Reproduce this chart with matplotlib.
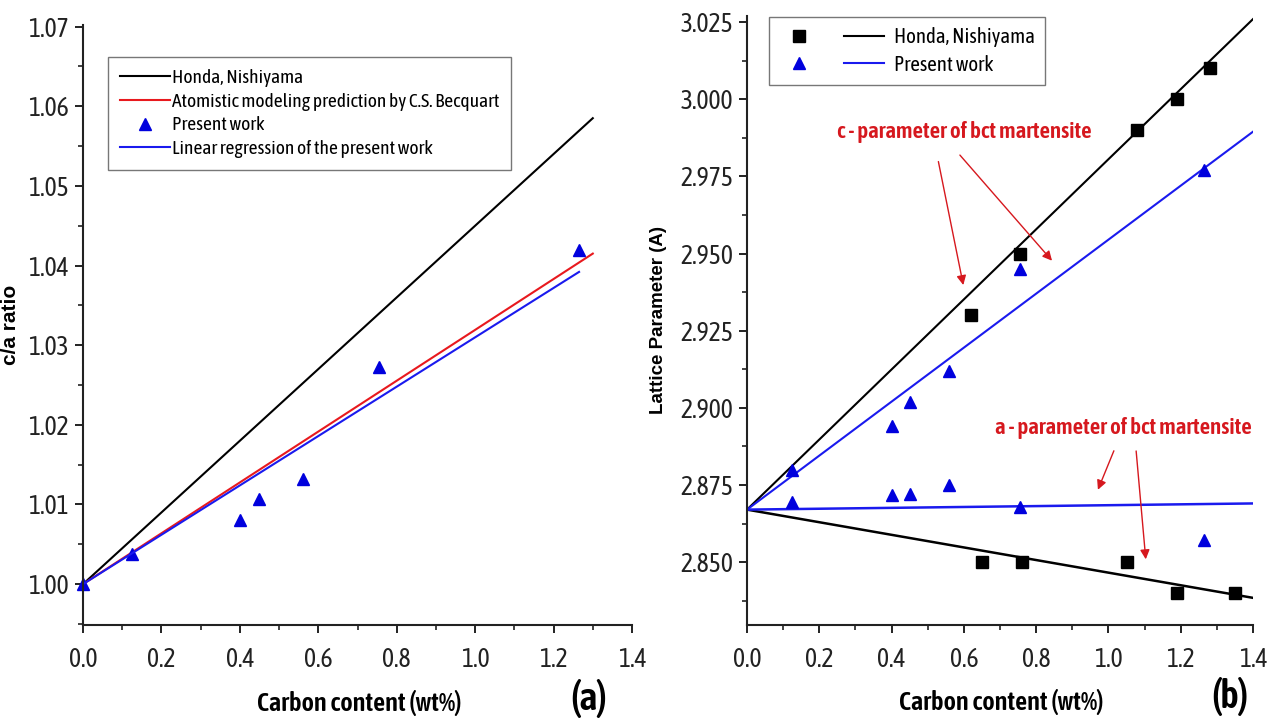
import numpy as np
import matplotlib
matplotlib.use("Agg")
import matplotlib.pyplot as plt
from matplotlib import font_manager
from matplotlib.font_manager import FontProperties
from matplotlib.lines import Line2D
from matplotlib.legend_handler import HandlerTuple
from matplotlib.ticker import MultipleLocator


def weight_num(w):
    return w if isinstance(w, int) else font_manager.weight_dict.get(w, 400)


def pick_narrow():
    # the chart uses Arial Narrow; look for an upright narrow face with regular and bold cuts
    faces = {}
    for f in font_manager.fontManager.ttflist:
        if not ('Narrow' in f.name or 'Condensed' in f.name
                or f.stretch in ('condensed', 'semi-condensed')):
            continue
        if f.style != 'normal':
            continue
        faces.setdefault(f.name, {})[weight_num(f.weight)] = f.fname
    for name, ws in sorted(faces.items()):
        reg = [w for w in ws if 350 <= w <= 500]
        bold = [w for w in ws if w >= 600]
        if reg and bold:
            return (ws[min(reg, key=lambda w: abs(w - 400))],
                    ws[min(bold, key=lambda w: abs(w - 600))], 1.0)
    reg = font_manager.findfont(FontProperties(family='Liberation Sans'))
    bold = font_manager.findfont(FontProperties(family='Liberation Sans', weight='bold'))
    return reg, bold, 0.82


REG_FILE, BOLD_FILE, scale = pick_narrow()
WIDE_BOLD = font_manager.findfont(FontProperties(family='Liberation Sans', weight='bold'))


def fp(size, bold=False):
    return FontProperties(fname=BOLD_FILE if bold else REG_FILE, size=size * scale)


# ---- panel (a): c/a ratio ----
ca_x = [0.0, 0.125, 0.40, 0.45, 0.56, 0.755, 1.265]
ca_y = [1.000, 1.0038, 1.0080, 1.0107, 1.0132, 1.0272, 1.0420]
honda_ca_x = [0.0, 1.3]
honda_ca_y = [1.0, 1.0585]
becquart_x = [0.0, 1.3]
becquart_y = [1.0, 1.0415]
regr_ca_x = [0.0, 1.265]
regr_ca_y = [1.0, 1.0392]

# ---- panel (b): lattice parameters ----
honda_c_pts_x = [0.62, 0.755, 1.08, 1.19, 1.28]
honda_c_pts_y = [2.930, 2.950, 2.990, 3.000, 3.010]
honda_a_pts_x = [0.65, 0.76, 1.05, 1.19, 1.35]
honda_a_pts_y = [2.850, 2.850, 2.850, 2.840, 2.840]
present_x = [0.125, 0.40, 0.45, 0.56, 0.755, 1.265]
present_c = [2.880, 2.894, 2.902, 2.912, 2.945, 2.977]
present_a = [2.8695, 2.8717, 2.872, 2.875, 2.868, 2.857]
line_x = [0.0, 1.4]
honda_c_line = [2.867, 3.026]
honda_a_line = [2.867, 2.8384]
present_c_line = [2.867, 2.9895]
present_a_line = [2.867, 2.869]

W, H = 1281, 723
fig = plt.figure(figsize=(W / 100, H / 100), dpi=100)


def style_axes(ax):
    for s in ['top', 'right']:
        ax.spines[s].set_visible(False)
    for s in ['left', 'bottom']:
        ax.spines[s].set_linewidth(1.5)
        ax.spines[s].set_color('#222222')
    ax.tick_params(which='major', direction='out', length=6, width=1.4, colors='#222222')
    ax.tick_params(which='minor', direction='out', length=3.5, width=1.2, colors='#222222')
    ax.tick_params(axis='x', which='major', pad=10)
    ax.tick_params(axis='y', which='major', pad=4)
    ax.xaxis.set_major_locator(MultipleLocator(0.2))
    ax.xaxis.set_minor_locator(MultipleLocator(0.1))
    ax.xaxis.set_major_formatter(plt.FormatStrFormatter('%.1f'))
    ax.set_xlim(0, 1.4)


def tick_fonts(ax):
    for lbl in ax.get_xticklabels() + ax.get_yticklabels():
        lbl.set_fontproperties(fp(18.5))
        lbl.set_color('#222222')


# panel (a)
ax1 = fig.add_axes([83 / W, 1 - 625 / H, 549 / W, 600 / H])
style_axes(ax1)
ax1.plot(honda_ca_x, honda_ca_y, color='black', lw=1.5, label='Honda, Nishiyama')
ax1.plot(becquart_x, becquart_y, color='#e8191e', lw=1.5,
         label='Atomistic modeling prediction by C.S. Becquart')
ax1.plot(ca_x, ca_y, '^', color='#0000dd', ms=9, ls='none', label='Present work', clip_on=False)
ax1.plot(regr_ca_x, regr_ca_y, color='#1a1aee', lw=1.5, label='Linear regression of the present work')
ax1.set_ylim(0.99487, 1.0702)
ax1.yaxis.set_major_locator(MultipleLocator(0.01))
ax1.yaxis.set_minor_locator(MultipleLocator(0.005))
ax1.yaxis.set_major_formatter(plt.FormatStrFormatter('%.2f'))
tick_fonts(ax1)
ax1.set_ylabel('c/a ratio', fontproperties=FontProperties(fname=WIDE_BOLD, size=15))
ax1.yaxis.set_label_coords(-(83 - 20) / 549, 0.5)
ax1.set_xlabel('Carbon content (wt%)', fontproperties=fp(19, True), va='center')
ax1.xaxis.set_label_coords((359 - 83) / 549, -(703 - 625) / 600)
leg1 = ax1.legend(loc='upper left', bbox_to_anchor=(108 / W, 1 - 57 / H),
                  bbox_transform=fig.transFigure, borderaxespad=0, prop=fp(14),
                  handlelength=2.6, handletextpad=0.1, fancybox=False, frameon=True,
                  labelspacing=0.3, borderpad=0.6)
leg1.get_frame().set_edgecolor('#555555')
leg1.get_frame().set_linewidth(1.0)
fig.text(589 / W, 1 - 699 / H, '(a)', fontproperties=fp(28, True), ha='center', va='center')

# panel (b)
ax2 = fig.add_axes([747 / W, 1 - 625 / H, 506 / W, 609 / H])
style_axes(ax2)
ax2.plot(line_x, honda_c_line, color='black', lw=1.5)
ax2.plot(line_x, honda_a_line, color='black', lw=1.8)
ax2.plot(line_x, present_c_line, color='#1a1aee', lw=1.5)
ax2.plot(line_x, present_a_line, color='#1a1aee', lw=1.8)
ax2.plot(honda_c_pts_x, honda_c_pts_y, 's', color='black', ms=8, ls='none')
ax2.plot(honda_a_pts_x, honda_a_pts_y, 's', color='black', ms=8, ls='none')
ax2.plot(present_x, present_c, '^', color='#0000dd', ms=9, ls='none')
ax2.plot(present_x, present_a, '^', color='#0000dd', ms=9, ls='none')
ax2.set_ylim(2.8296, 3.027)
ax2.yaxis.set_major_locator(MultipleLocator(0.025))
ax2.yaxis.set_minor_locator(MultipleLocator(0.0125))
ax2.yaxis.set_major_formatter(plt.FormatStrFormatter('%.3f'))
tick_fonts(ax2)
ax2.set_ylabel('Lattice Parameter (A)', fontproperties=FontProperties(fname=WIDE_BOLD, size=13.5))
ax2.yaxis.set_label_coords(-(747 - 667) / 506, 0.5)
ax2.set_xlabel('Carbon content (wt%)', fontproperties=fp(19, True), va='center')
ax2.xaxis.set_label_coords((1001 - 747) / 506, -(702 - 625) / 609)
fig.text(1230 / W, 1 - 697 / H, '(b)', fontproperties=fp(28, True), ha='center', va='center')

h_sq = Line2D([], [], marker='s', color='black', ms=8, ls='none')
h_bl = Line2D([], [], color='black', lw=1.5)
h_tr = Line2D([], [], marker='^', color='#0000dd', ms=9, ls='none')
h_bb = Line2D([], [], color='#1a1aee', lw=1.5)
leg2 = ax2.legend([(h_sq, h_bl), (h_tr, h_bb)], ['Honda, Nishiyama', 'Present work'],
                  handler_map={tuple: HandlerTuple(ndivide=None, pad=1.2)},
                  loc='upper left', bbox_to_anchor=(769 / W, 1 - 17 / H),
                  bbox_transform=fig.transFigure, borderaxespad=0, prop=fp(15),
                  handlelength=5.0 / scale, handletextpad=0.5, fancybox=False, frameon=True,
                  labelspacing=0.35, borderpad=0.5)
leg2.get_frame().set_edgecolor('#555555')
leg2.get_frame().set_linewidth(1.0)

red = '#d6181e'
ax2.text(0.600, 2.9894, 'c - parameter of bct martensite', color=red,
         fontproperties=fp(16.5, True), ha='center', va='center')
ax2.text(1.040, 2.8933, 'a - parameter of bct martensite', color=red,
         fontproperties=fp(16.5, True), ha='center', va='center')
arrows = [((0.528, 2.9807), (0.600, 2.9389)),
          ((0.584, 2.9826), (0.849, 2.9470)),
          ((1.018, 2.8869), (0.968, 2.8726)),
          ((1.076, 2.8869), (1.104, 2.8500))]
for tail, head in arrows:
    ax2.annotate('', xy=head, xytext=tail,
                 arrowprops=dict(arrowstyle='-|>', color=red, lw=1.0, mutation_scale=14))

fig.savefig('out.png', dpi=100)
